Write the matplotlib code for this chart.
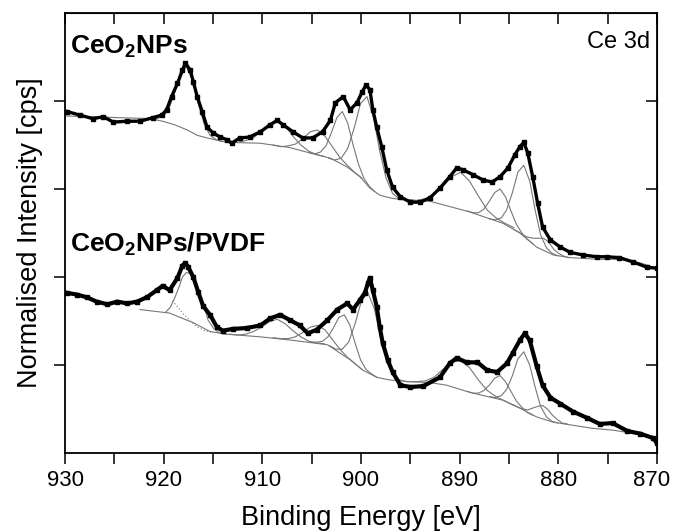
import matplotlib
matplotlib.use("Agg")
import matplotlib.pyplot as plt
import matplotlib.transforms as mtransforms

plt.rcParams['font.family'] = ['Liberation Sans', 'DejaVu Sans']
plt.rcParams['mathtext.fontset'] = 'custom'
plt.rcParams['mathtext.rm'] = 'Liberation Sans'
plt.rcParams['mathtext.bf'] = 'Liberation Sans:bold'

# ---------------- data: CeO2NPs (upper spectrum) ----------------
up_e = [929.8, 928.5, 927.2, 926.1, 925.1, 923.7, 922.4, 921.1, 920.2, 919.7, 919.2, 918.6, 918.1,
        917.8, 917.3, 917.0, 916.6, 916.1, 915.6, 915.0, 914.3, 913.6, 913.1, 912.3, 911.3, 910.2,
        909.2, 908.5, 907.9, 906.9, 905.9, 904.9, 903.9, 903.1, 902.6, 901.8, 901.1, 900.4, 899.9,
        899.5, 899.1, 898.8, 898.4, 897.9, 897.4, 896.8, 896.0, 895.0, 894.0, 893.0, 892.0, 891.0,
        890.3, 889.7, 888.6, 887.6, 886.7, 885.9, 885.1, 884.4, 883.9, 883.5, 883.1, 882.6, 882.1,
        881.6, 880.8, 879.8, 878.8, 877.5, 876.1, 875.1, 873.8, 872.4, 871.0, 870.0]
up_y = [3.88, 3.84, 3.80, 3.82, 3.76, 3.77, 3.77, 3.81, 3.84, 3.90, 4.05, 4.20, 4.35,
        4.43, 4.35, 4.22, 4.05, 3.88, 3.70, 3.64, 3.59, 3.56, 3.52, 3.58, 3.59, 3.65,
        3.73, 3.78, 3.73, 3.65, 3.58, 3.58, 3.65, 3.78, 3.98, 4.05, 3.90, 3.98, 4.10,
        4.18, 4.13, 3.90, 3.70, 3.48, 3.22, 3.02, 2.91, 2.85, 2.85, 2.90, 3.01, 3.14,
        3.24, 3.22, 3.16, 3.10, 3.08, 3.14, 3.24, 3.39, 3.48, 3.53, 3.41, 3.14, 2.84,
        2.57, 2.42, 2.34, 2.28, 2.25, 2.23, 2.23, 2.22, 2.17, 2.11, 2.10]

up_bg_e = [930.0, 924.4, 921.4, 920.1, 918.9, 917.6, 916.6, 915.6, 913.6, 910.2, 907.2, 905.2, 903.1,
           901.4, 900.1, 899.1, 898.1, 897.1, 896.0, 893.0, 889.0, 885.6, 883.9, 882.2, 880.5,
           878.8, 875.8, 873.8, 871.7, 870.0]
up_bg_y = [3.83, 3.81, 3.80, 3.77, 3.73, 3.67, 3.61, 3.58, 3.53, 3.52, 3.47, 3.41, 3.35,
           3.25, 3.14, 3.01, 2.93, 2.90, 2.88, 2.86, 2.74, 2.61, 2.50, 2.34, 2.25,
           2.22, 2.20, 2.20, 2.16, 2.10]

# fitted components (upper), read as (energy, intensity) point lists
up_c1_e = [921.3, 920.7, 920.1, 919.5, 918.9, 918.3, 917.7, 917.1, 916.5, 915.9, 915.3, 914.7, 914.1]
up_c1_y = [3.80, 3.80, 3.82, 3.90, 4.09, 4.30, 4.39, 4.24, 3.97, 3.74, 3.61, 3.56, 3.54]
up_c2_e = [913.3, 912.5, 911.7, 910.9, 910.1, 909.3, 908.5, 907.7, 906.9, 906.1, 905.3, 904.5, 903.7]
up_c2_y = [3.53, 3.53, 3.55, 3.58, 3.66, 3.74, 3.77, 3.72, 3.60, 3.50, 3.43, 3.39, 3.37]
up_c3_e = [908.9, 908.15, 907.4, 906.65, 905.9, 905.15, 904.4, 903.65, 902.9, 902.15, 901.4, 900.65, 899.9]
up_c3_y = [3.50, 3.48, 3.49, 3.51, 3.57, 3.65, 3.67, 3.60, 3.48, 3.36, 3.27, 3.19, 3.12]
up_c4_e = [905.2, 904.65, 904.1, 903.55, 903.0, 902.45, 901.9, 901.35, 900.8, 900.25, 899.7, 899.15, 898.6]
up_c4_y = [3.41, 3.40, 3.42, 3.49, 3.64, 3.81, 3.88, 3.75, 3.50, 3.28, 3.12, 3.03, 2.97]
up_c5_e = [903.3, 902.65, 902.0, 901.35, 900.7, 900.05, 899.4, 898.75, 898.1, 897.45, 896.8, 896.15, 895.5]
up_c5_y = [3.35, 3.33, 3.35, 3.46, 3.69, 3.97, 4.05, 3.82, 3.43, 3.12, 2.95, 2.89, 2.88]
up_c6_e = [895.3, 894.4, 893.5, 892.6, 891.7, 890.8, 889.9, 889.0, 888.1, 887.2, 886.3, 885.4, 884.5]
up_c6_y = [2.88, 2.87, 2.89, 2.94, 3.03, 3.14, 3.19, 3.09, 2.92, 2.76, 2.67, 2.61, 2.56]
up_c7_e = [889.2, 888.65, 888.1, 887.55, 887.0, 886.45, 885.9, 885.35, 884.8, 884.25, 883.7, 883.15, 882.6]
up_c7_y = [2.75, 2.73, 2.73, 2.77, 2.86, 2.96, 3.00, 2.91, 2.75, 2.60, 2.50, 2.43, 2.38]
up_c8_e = [886.95, 886.4, 885.8, 885.25, 884.65, 884.1, 883.5, 882.9, 882.35, 881.8, 881.2, 880.65, 880.05]
up_c8_y = [2.66, 2.65, 2.67, 2.76, 2.96, 3.19, 3.27, 3.09, 2.76, 2.48, 2.33, 2.27, 2.24]
up_c9_e = [884.5, 884.0, 883.5, 883.0, 882.5, 882.0, 881.5, 881.0, 880.5, 880.0, 879.5, 879.0]
up_c9_y = [2.54, 2.51, 2.47, 2.45, 2.44, 2.44, 2.44, 2.40, 2.32, 2.27, 2.24, 2.22]

# ---------------- data: CeO2NPs/PVDF (lower spectrum) ----------------
lo_e = [929.8, 928.8, 927.8, 926.8, 925.7, 924.7, 923.7, 922.7, 921.7, 920.7, 920.1, 919.4, 918.6,
        918.1, 917.8, 917.5, 917.0, 916.5, 916.0, 915.3, 914.6, 914.0, 913.0, 911.6, 910.2, 909.2,
        908.2, 907.2, 906.2, 905.4, 904.5, 903.4, 902.4, 901.4, 900.8, 900.1, 899.6, 899.3, 899.1,
        898.8, 898.4, 898.1, 897.8, 897.3, 896.8, 896.0, 895.0, 893.7, 892.0, 891.0, 890.3, 889.3,
        888.2, 887.2, 886.2, 885.2, 884.6, 883.9, 883.4, 882.9, 882.2, 881.6, 880.8, 879.8, 878.5,
        877.1, 875.8, 874.5, 873.0, 871.7, 870.4, 870.0]
lo_y = [1.82, 1.80, 1.77, 1.72, 1.69, 1.72, 1.70, 1.72, 1.77, 1.85, 1.90, 1.85, 1.99,
        2.13, 2.16, 2.11, 2.00, 1.83, 1.67, 1.57, 1.43, 1.39, 1.41, 1.42, 1.45, 1.53,
        1.57, 1.51, 1.45, 1.36, 1.40, 1.51, 1.63, 1.70, 1.63, 1.74, 1.82, 1.93, 1.99,
        1.85, 1.66, 1.43, 1.25, 1.06, 0.92, 0.77, 0.75, 0.76, 0.86, 1.02, 1.08, 1.03,
        1.03, 0.94, 0.92, 1.02, 1.14, 1.28, 1.36, 1.28, 0.99, 0.77, 0.63, 0.56, 0.47,
        0.40, 0.33, 0.34, 0.25, 0.22, 0.17, 0.11]

lo_bg_e = [922.4, 919.4, 917.0, 915.3, 913.6, 910.2, 906.9, 903.4, 901.1, 899.8, 898.4, 897.1, 895.0,
           893.0, 891.3, 889.0, 885.6, 883.9, 882.2, 880.5, 878.8, 876.5, 874.5, 872.2, 870.0]
lo_bg_y = [1.63, 1.59, 1.48, 1.38, 1.35, 1.32, 1.28, 1.23, 1.06, 0.94, 0.86, 0.83, 0.81,
           0.80, 0.77, 0.69, 0.60, 0.51, 0.41, 0.35, 0.32, 0.28, 0.26, 0.22, 0.15]

lo_dot_e = [919.1, 918.6, 918.0, 917.3, 916.6, 915.8, 915.0]
lo_dot_y = [1.73, 1.66, 1.58, 1.50, 1.43, 1.39, 1.37]

lo_c1_e = [919.8, 919.3, 918.85, 918.4, 918.1, 917.7, 917.3, 916.8, 916.1, 915.5, 914.9, 914.3, 913.6]
lo_c1_y = [1.60, 1.66, 1.77, 1.90, 2.00, 2.05, 2.04, 1.95, 1.74, 1.51, 1.41, 1.36, 1.35]
lo_c2_e = [913.3, 912.5, 911.7, 910.9, 910.1, 909.3, 908.5, 907.7, 906.9, 906.1, 905.3, 904.5, 903.7]
lo_c2_y = [1.35, 1.34, 1.35, 1.38, 1.43, 1.49, 1.52, 1.47, 1.39, 1.32, 1.27, 1.25, 1.24]
lo_c3_e = [908.9, 908.15, 907.4, 906.65, 905.9, 905.15, 904.4, 903.65, 902.9, 902.15, 901.4, 900.65, 899.9]
lo_c3_y = [1.31, 1.30, 1.30, 1.32, 1.37, 1.43, 1.45, 1.40, 1.29, 1.18, 1.09, 1.02, 0.95]
lo_c4_e = [905.0, 904.45, 903.9, 903.35, 902.8, 902.25, 901.7, 901.15, 900.6, 900.05, 899.5, 898.95, 898.4]
lo_c4_y = [1.26, 1.26, 1.27, 1.32, 1.42, 1.54, 1.57, 1.46, 1.25, 1.06, 0.95, 0.90, 0.86]
lo_c5_e = [903.2, 902.55, 901.9, 901.25, 900.6, 899.95, 899.3, 898.65, 898.0, 897.35, 896.7, 896.05, 895.4]
lo_c5_y = [1.22, 1.18, 1.18, 1.26, 1.47, 1.73, 1.82, 1.64, 1.31, 1.03, 0.88, 0.83, 0.81]
lo_c6_e = [895.3, 894.4, 893.5, 892.6, 891.7, 890.8, 889.9, 889.0, 888.1, 887.2, 886.3, 885.4, 884.5]
lo_c6_y = [0.81, 0.81, 0.82, 0.86, 0.95, 1.03, 1.05, 0.97, 0.83, 0.71, 0.64, 0.59, 0.54]
lo_c7_e = [889.2, 888.65, 888.1, 887.55, 887.0, 886.45, 885.9, 885.35, 884.8, 884.25, 883.7, 883.15, 882.6]
lo_c7_y = [0.70, 0.68, 0.68, 0.71, 0.77, 0.85, 0.88, 0.81, 0.70, 0.59, 0.52, 0.46, 0.43]
lo_c8_e = [886.95, 886.4, 885.8, 885.25, 884.65, 884.1, 883.5, 882.9, 882.35, 881.8, 881.2, 880.65, 880.05]
lo_c8_y = [0.64, 0.63, 0.65, 0.72, 0.88, 1.07, 1.15, 1.00, 0.75, 0.53, 0.41, 0.36, 0.34]
lo_c9_e = [884.6, 884.1, 883.6, 883.1, 882.6, 882.1, 881.6, 881.1, 880.6, 880.1, 879.6, 879.1]
lo_c9_y = [0.55, 0.52, 0.50, 0.49, 0.51, 0.53, 0.54, 0.50, 0.43, 0.38, 0.34, 0.33]

x_ticks = [930, 925, 920, 915, 910, 905, 900, 895, 890, 885, 880, 875, 870]
x_labels = ['930', '', '920', '', '910', '', '900', '', '890', '', '880', '', '870']
y_ticks = [1, 2, 3, 4]

# ---------------- plotting ----------------
fig = plt.figure(figsize=(6.73, 5.32), dpi=100)
ax = fig.add_axes([0.0966, 0.1485, 0.8796, 0.8271])

comp_kw = dict(color='#777777', lw=0.8, zorder=2)
up_comps = [(up_c1_e, up_c1_y), (up_c2_e, up_c2_y), (up_c3_e, up_c3_y), (up_c4_e, up_c4_y),
            (up_c5_e, up_c5_y), (up_c6_e, up_c6_y), (up_c7_e, up_c7_y), (up_c8_e, up_c8_y),
            (up_c9_e, up_c9_y)]
lo_comps = [(lo_c1_e, lo_c1_y), (lo_c2_e, lo_c2_y), (lo_c3_e, lo_c3_y), (lo_c4_e, lo_c4_y),
            (lo_c5_e, lo_c5_y), (lo_c6_e, lo_c6_y), (lo_c7_e, lo_c7_y), (lo_c8_e, lo_c8_y),
            (lo_c9_e, lo_c9_y)]
ax.plot(up_bg_e, up_bg_y, **comp_kw)
ax.plot(lo_bg_e, lo_bg_y, **comp_kw)
for e, y in up_comps + lo_comps:
    ax.plot(e, y, **comp_kw)
ax.plot(lo_dot_e, lo_dot_y, color='#777777', lw=0.8, ls=(0, (1, 2)), zorder=2)

for (e, y), lw in [((up_e, up_y), 2.4), ((lo_e, lo_y), 3.0)]:
    ax.plot(e, y, color='black', lw=lw, zorder=3, solid_joinstyle='round')
    ax.plot(e, y, ls='none', marker='s', ms=2.6, color='black', zorder=4)

ax.set_xlim(930, 870)
ax.set_ylim(0, 5)
ax.set_xticks(x_ticks)
ax.set_xticklabels(x_labels)
ax.set_yticks(y_ticks)
ax.set_yticklabels([])
ax.tick_params(axis='x', direction='out', length=8, width=1.1, labelsize=16, pad=4)
ax.tick_params(axis='y', direction='out', length=8, width=1.1)
for s in ax.spines.values():
    s.set_linewidth(1.3)

# keep the last tick label ("870") inside the figure edge
last = ax.get_xticklabels()[-1]
last.set_transform(last.get_transform() +
                   mtransforms.ScaledTranslation(-5 / 100, 0, fig.dpi_scale_trans))

top = ax.secondary_xaxis('top')
top.set_xticks(x_ticks)
top.tick_params(direction='in', length=8, width=1.1, labeltop=False)
top.set_xticklabels([])
right = ax.secondary_yaxis('right')
right.set_yticks(y_ticks)
right.tick_params(direction='in', length=8, width=1.1, labelright=False)
right.set_yticklabels([])

ax.set_xlabel('Binding Energy [eV]', fontsize=19.5, labelpad=10)
ax.set_ylabel('Normalised Intensity [cps]', fontsize=19.5, labelpad=4)

ax.text(0.008, 0.909, r'CeO$_\mathbf{2}$NPs', transform=ax.transAxes, fontsize=19,
        fontweight='bold', ha='left', va='baseline')
ax.text(0.008, 0.459, r'CeO$_\mathbf{2}$NPs/PVDF', transform=ax.transAxes, fontsize=19,
        fontweight='bold', ha='left', va='baseline')
ax.text(0.988, 0.92, 'Ce 3d', transform=ax.transAxes, fontsize=17,
        ha='right', va='baseline')

fig.savefig('out.png', dpi=100)
